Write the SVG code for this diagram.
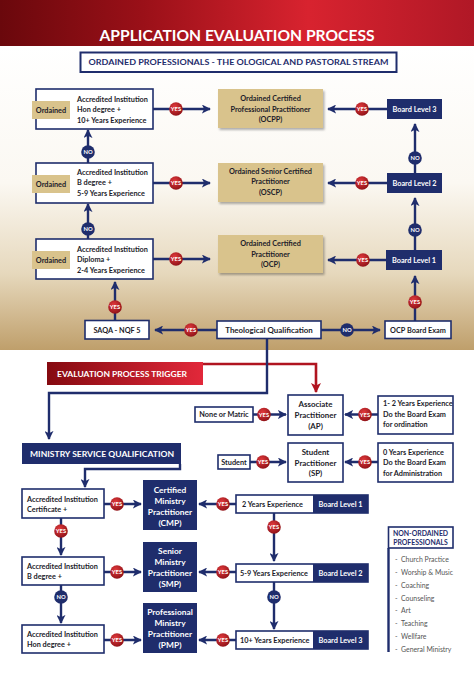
<svg xmlns="http://www.w3.org/2000/svg" width="474" height="676" viewBox="0 0 474 676">
<defs>
<linearGradient id="hdr" x1="0" y1="0" x2="1" y2="0">
<stop offset="0" stop-color="#6a080c"/><stop offset="0.3" stop-color="#9a1018"/><stop offset="0.65" stop-color="#d8232f"/><stop offset="1" stop-color="#b01826"/>
</linearGradient>
<linearGradient id="trig" x1="0" y1="0" x2="1" y2="0">
<stop offset="0" stop-color="#850a10"/><stop offset="1" stop-color="#e2283a"/>
</linearGradient>
<linearGradient id="bg" x1="0" y1="0" x2="0" y2="1">
<stop offset="0" stop-color="#ffffff"/><stop offset="0.45" stop-color="#fbf8f2"/><stop offset="0.75" stop-color="#e6d8bc"/><stop offset="1" stop-color="#bf9f6b"/>
</linearGradient>
<radialGradient id="yesg" cx="0.4" cy="0.35" r="0.7">
<stop offset="0" stop-color="#e23a3c"/><stop offset="1" stop-color="#8c1016"/>
</radialGradient>
<filter id="sh" x="-10%" y="-10%" width="130%" height="140%">
<feDropShadow dx="1.5" dy="2" stdDeviation="1.2" flood-color="#000" flood-opacity="0.3"/>
</filter>
<marker id="arr" viewBox="0 0 10 10" refX="9" refY="5" markerWidth="9" markerHeight="9" markerUnits="userSpaceOnUse" orient="auto">
<path d="M0,0 L10,5 L0,10 L2.5,5 z" fill="#1f2d6c"/>
</marker>
<marker id="arrR" viewBox="0 0 10 10" refX="9" refY="5" markerWidth="10" markerHeight="10" markerUnits="userSpaceOnUse" orient="auto">
<path d="M0,0 L10,5 L0,10 L2.5,5 z" fill="#b01420"/>
</marker>
<g id="yes"><circle r="6.8" fill="url(#yesg)"/><text y="2.1" class="ct">YES</text></g>
<g id="no"><circle r="6.8" fill="#1f2d6c"/><text y="2.1" class="ct">NO</text></g>
</defs>
<style>
text{font-family:Lato,"Open Sans","Liberation Sans",sans-serif;font-weight:700}
.ct{fill:#fff;font-size:5.8px;text-anchor:middle}
.wbox{fill:#fff;stroke:#1f2d6c;stroke-width:1.6}
.nbox{fill:#1f2d6c}
.tan{fill:#d9c38c}
.t7{font-size:7.3px;fill:#1c1c2a}
.tc{text-anchor:middle}
.wt{fill:#fff}
.nv{fill:#1f2d6c}
.ln{fill:none;stroke:#1f2d6c;stroke-width:2.4}
.lr{fill:none;stroke:#b01420;stroke-width:2.6}
.leg{font-family:Lato,"Open Sans","Liberation Sans",sans-serif;font-weight:400;font-size:6.9px;fill:#555}
</style>

<rect x="0" y="46" width="474" height="304" fill="url(#bg)"/>
<g id="header">
<rect x="0" y="0" width="474" height="46" fill="url(#hdr)"/>
<text x="237" y="41" class="tc wt" font-size="14.6" textLength="275" lengthAdjust="spacingAndGlyphs">APPLICATION EVALUATION PROCESS</text>
</g>
<g id="subtitle">
<rect x="80.5" y="52.5" width="316" height="19.5" fill="#fff" stroke="#1f2d6c" stroke-width="2"/>
<text x="238.5" y="65.3" class="tc nv" font-size="8.2" textLength="300" lengthAdjust="spacingAndGlyphs">ORDAINED PROFESSIONALS - THE OLOGICAL AND PASTORAL STREAM</text>
</g>

<g id="connectors">
<line class="ln" x1="153" y1="109" x2="210" y2="109" marker-end="url(#arr)"/>
<line class="ln" x1="153" y1="183" x2="210" y2="183" marker-end="url(#arr)"/>
<line class="ln" x1="153" y1="259" x2="210" y2="259" marker-end="url(#arr)"/>
<line class="ln" x1="88" y1="163" x2="88" y2="130" marker-end="url(#arr)"/>
<line class="ln" x1="88" y1="239" x2="88" y2="204" marker-end="url(#arr)"/>
<line class="ln" x1="115" y1="320" x2="115" y2="282" marker-end="url(#arr)"/>
<line class="ln" x1="217" y1="330" x2="155" y2="330" marker-end="url(#arr)"/>
<line class="ln" x1="321" y1="330" x2="380" y2="330" marker-end="url(#arr)"/>
<line class="ln" x1="415" y1="321" x2="415" y2="276" marker-end="url(#arr)"/>
<line class="ln" x1="386" y1="260" x2="328" y2="260" marker-end="url(#arr)"/>
<line class="ln" x1="415" y1="250" x2="415" y2="198" marker-end="url(#arr)"/>
<line class="ln" x1="387" y1="183" x2="328" y2="183" marker-end="url(#arr)"/>
<line class="ln" x1="415" y1="173" x2="415" y2="124" marker-end="url(#arr)"/>
<line class="ln" x1="387" y1="109" x2="328" y2="109" marker-end="url(#arr)"/>
<polyline class="lr" points="203,364 316,364 316,392" marker-end="url(#arrR)"/>
<polyline class="ln" points="267,338 267,393 49,393 49,439" marker-end="url(#arr)"/>
<polyline class="ln" points="180,464 180,469 85,469 85,487" marker-end="url(#arr)"/>
<line class="ln" x1="253" y1="414.5" x2="286" y2="414.5" marker-end="url(#arr)"/>
<line class="ln" x1="378" y1="414.5" x2="345" y2="414.5" marker-end="url(#arr)"/>
<line class="ln" x1="250" y1="462" x2="286" y2="462" marker-end="url(#arr)"/>
<line class="ln" x1="378" y1="462" x2="345" y2="462" marker-end="url(#arr)"/>
<line class="ln" x1="104" y1="504" x2="141" y2="504" marker-end="url(#arr)"/>
<line class="ln" x1="104" y1="572" x2="141" y2="572" marker-end="url(#arr)"/>
<line class="ln" x1="104" y1="640" x2="141" y2="640" marker-end="url(#arr)"/>
<line class="ln" x1="236" y1="504" x2="199" y2="504" marker-end="url(#arr)"/>
<line class="ln" x1="236" y1="572" x2="199" y2="572" marker-end="url(#arr)"/>
<line class="ln" x1="236" y1="640" x2="199" y2="640" marker-end="url(#arr)"/>
<line class="ln" x1="61" y1="518" x2="61" y2="555" marker-end="url(#arr)"/>
<line class="ln" x1="61" y1="585" x2="61" y2="623" marker-end="url(#arr)"/>
<line class="ln" x1="274" y1="513" x2="274" y2="561" marker-end="url(#arr)"/>
<line class="ln" x1="274" y1="582" x2="274" y2="629" marker-end="url(#arr)"/>
<line class="ln" x1="388.5" y1="548" x2="388.5" y2="652"/>
<use href="#yes" x="176" y="109"/><use href="#yes" x="176" y="183"/><use href="#yes" x="176" y="259"/>
<use href="#no" x="88" y="152"/><use href="#no" x="88" y="229"/>
<use href="#yes" x="115" y="307"/><use href="#yes" x="191" y="330"/><use href="#no" x="347" y="330"/>
<use href="#yes" x="415" y="302"/><use href="#yes" x="363" y="260"/><use href="#no" x="415" y="230"/>
<use href="#yes" x="362" y="183"/><use href="#no" x="415" y="158"/><use href="#yes" x="362" y="109"/>
<use href="#yes" x="264" y="414.5"/><use href="#yes" x="365" y="414.5"/>
<use href="#yes" x="263" y="462"/><use href="#yes" x="365" y="462"/>
<use href="#yes" x="117" y="504"/><use href="#yes" x="117" y="572"/><use href="#yes" x="117" y="640"/>
<use href="#yes" x="223" y="504"/><use href="#yes" x="223" y="572"/><use href="#yes" x="223" y="640"/>
<use href="#yes" x="61" y="531"/><use href="#no" x="61" y="597"/>
<use href="#yes" x="274" y="527"/><use href="#no" x="274" y="597"/>
</g>

<g id="ord-hon">
<rect class="wbox" x="36" y="89" width="117" height="40"/>
<rect class="tan" x="32" y="101" width="38" height="18"/>
<text x="51" y="112.5" class="t7 tc">Ordained</text>
<text x="77" y="101.5" class="t7">Accredited Institution</text>
<text x="77" y="112" class="t7">Hon degree +</text>
<text x="77" y="122.5" class="t7">10+ Years Experience</text>
</g>
<g id="ord-b">
<rect class="wbox" x="36" y="163" width="117" height="40"/>
<rect class="tan" x="32" y="175" width="38" height="18"/>
<text x="51" y="186.5" class="t7 tc">Ordained</text>
<text x="77" y="174.5" class="t7">Accredited Institution</text>
<text x="77" y="185" class="t7">B degree +</text>
<text x="77" y="195.5" class="t7">5-9 Years Experience</text>
</g>
<g id="ord-dip">
<rect class="wbox" x="36" y="239" width="117" height="40"/>
<rect class="tan" x="32" y="251" width="38" height="18"/>
<text x="51" y="262.5" class="t7 tc">Ordained</text>
<text x="77" y="251.5" class="t7">Accredited Institution</text>
<text x="77" y="262" class="t7">Diploma +</text>
<text x="77" y="272.5" class="t7">2-4 Years Experience</text>
</g>

<g id="ocpp">
<rect class="tan" x="218" y="89" width="105" height="39" filter="url(#sh)"/>
<text x="270.5" y="101" class="t7 tc">Ordained Certified</text>
<text x="270.5" y="111.5" class="t7 tc">Professional Practitioner</text>
<text x="270.5" y="122" class="t7 tc">(OCPP)</text>
</g>
<g id="oscp">
<rect class="tan" x="218" y="163" width="105" height="39" filter="url(#sh)"/>
<text x="270.5" y="173.5" class="t7 tc">Ordained Senior Certified</text>
<text x="270.5" y="184" class="t7 tc">Practitioner</text>
<text x="270.5" y="194.5" class="t7 tc">(OSCP)</text>
</g>
<g id="ocp">
<rect class="tan" x="218" y="235" width="105" height="38" filter="url(#sh)"/>
<text x="270.5" y="246" class="t7 tc">Ordained Certified</text>
<text x="270.5" y="256.5" class="t7 tc">Practitioner</text>
<text x="270.5" y="267" class="t7 tc">(OCP)</text>
</g>

<g id="board3"><rect class="nbox" x="387" y="99" width="55" height="20"/><text x="414.5" y="111.5" class="t7 tc wt">Board Level 3</text></g>
<g id="board2"><rect class="nbox" x="387" y="173" width="55" height="20"/><text x="414.5" y="185.5" class="t7 tc wt">Board Level 2</text></g>
<g id="board1"><rect class="nbox" x="386" y="250" width="56" height="20"/><text x="414" y="262.5" class="t7 tc wt">Board Level 1</text></g>

<g id="saqa"><rect class="wbox" x="85" y="320.5" width="64" height="18.5"/><text x="117" y="332.5" class="t7 tc">SAQA - NQF 5</text></g>
<g id="theo"><rect class="wbox" x="217" y="321" width="104" height="17.5"/><text x="269" y="332.5" class="tc" font-size="7.9" fill="#1c1c2a">Theological Qualification</text></g>
<g id="ocpexam"><rect class="wbox" x="385" y="321" width="66" height="17.5"/><text x="418" y="332.5" class="t7 tc">OCP Board Exam</text></g>

<g id="trigger">
<rect x="47" y="362" width="156" height="23" fill="url(#trig)"/>
<text x="57" y="377" class="wt" font-size="8.2" textLength="130" lengthAdjust="spacingAndGlyphs">EVALUATION PROCESS TRIGGER</text>
</g>
<g id="msq">
<rect class="nbox" x="22" y="443" width="159" height="21"/>
<text x="102" y="456.8" class="tc wt" font-size="8.2" textLength="144" lengthAdjust="spacingAndGlyphs">MINISTRY SERVICE QUALIFICATION</text>
</g>

<g id="ap">
<rect class="wbox" x="288" y="395" width="55" height="40"/>
<text x="315.5" y="407" class="tc" font-size="7.9" fill="#1c1c2a">Associate</text>
<text x="315.5" y="418" class="tc" font-size="7.9" fill="#1c1c2a">Practitioner</text>
<text x="315.5" y="428.5" class="tc" font-size="7.9" fill="#1c1c2a">(AP)</text>
</g>
<g id="matric"><rect class="wbox" x="195" y="407" width="58" height="15"/><text x="224" y="417" class="t7 tc">None or Matric</text></g>
<g id="exp12">
<rect class="wbox" x="378" y="396" width="75" height="38"/>
<text x="383" y="406" class="t7">1- 2 Years Experience</text>
<text x="383" y="416.5" class="t7">Do the Board Exam</text>
<text x="383" y="427" class="t7">for ordination</text>
</g>
<g id="sp">
<rect class="wbox" x="288" y="443" width="55" height="39"/>
<text x="315.5" y="455" class="tc" font-size="7.9" fill="#1c1c2a">Student</text>
<text x="315.5" y="465.5" class="tc" font-size="7.9" fill="#1c1c2a">Practitioner</text>
<text x="315.5" y="476" class="tc" font-size="7.9" fill="#1c1c2a">(SP)</text>
</g>
<g id="student"><rect class="wbox" x="218" y="455" width="32" height="14"/><text x="234" y="464.5" class="t7 tc">Student</text></g>
<g id="exp0">
<rect class="wbox" x="378" y="443" width="75" height="39"/>
<text x="383" y="454.5" class="t7">0 Years Experience</text>
<text x="383" y="465" class="t7">Do the Board Exam</text>
<text x="383" y="475.5" class="t7">for Administration</text>
</g>

<g id="acc-cert">
<rect class="wbox" x="22" y="489" width="82" height="29"/>
<text x="27" y="501.5" class="t7">Accredited Institution</text>
<text x="27" y="512" class="t7">Certificate +</text>
</g>
<g id="acc-b">
<rect class="wbox" x="22" y="557" width="82" height="28"/>
<text x="27" y="568.5" class="t7">Accredited Institution</text>
<text x="27" y="579" class="t7">B degree +</text>
</g>
<g id="acc-hon">
<rect class="wbox" x="22" y="625" width="82" height="28"/>
<text x="27" y="636.5" class="t7">Accredited Institution</text>
<text x="27" y="647" class="t7">Hon degree +</text>
</g>

<g id="cmp">
<rect class="nbox" x="143" y="480" width="54" height="50"/>
<text x="170" y="492.5" class="tc wt" font-size="8.4">Certified</text>
<text x="170" y="503.5" class="tc wt" font-size="8.4">Ministry</text>
<text x="170" y="514.5" class="tc wt" font-size="8.4">Practitioner</text>
<text x="170" y="525.5" class="tc wt" font-size="8.4">(CMP)</text>
</g>
<g id="smp">
<rect class="nbox" x="143" y="542" width="54" height="50"/>
<text x="170" y="554" class="tc wt" font-size="8.4">Senior</text>
<text x="170" y="565" class="tc wt" font-size="8.4">Ministry</text>
<text x="170" y="576" class="tc wt" font-size="8.4">Practitioner</text>
<text x="170" y="587" class="tc wt" font-size="8.4">(SMP)</text>
</g>
<g id="pmp">
<rect class="nbox" x="143" y="603" width="54" height="50"/>
<text x="170" y="615" class="tc wt" font-size="8.4">Professional</text>
<text x="170" y="626" class="tc wt" font-size="8.4">Ministry</text>
<text x="170" y="637" class="tc wt" font-size="8.4">Practitioner</text>
<text x="170" y="648" class="tc wt" font-size="8.4">(PMP)</text>
</g>

<g id="bl1-bar">
<rect class="wbox" x="236" y="495" width="132" height="18"/>
<rect class="nbox" x="313" y="495" width="55" height="18"/>
<text x="242" y="506.5" class="t7">2 Years Experience</text>
<text x="340.5" y="506.5" class="t7 tc wt">Board Level 1</text>
</g>
<g id="bl2-bar">
<rect class="wbox" x="236" y="564" width="132" height="18"/>
<rect class="nbox" x="313" y="564" width="55" height="18"/>
<text x="240" y="575.5" class="t7">5-9 Years Experience</text>
<text x="340.5" y="575.5" class="t7 tc wt">Board Level 2</text>
</g>
<g id="bl3-bar">
<rect class="wbox" x="236" y="631" width="132" height="18"/>
<rect class="nbox" x="313" y="631" width="55" height="18"/>
<text x="240" y="642.5" class="t7">10+ Years Experience</text>
<text x="340.5" y="642.5" class="t7 tc wt">Board Level 3</text>
</g>

<g id="legend">
<rect class="wbox" x="388.5" y="527" width="64.5" height="21"/>
<text x="420.5" y="536" class="tc nv" font-size="6.9">NON-ORDAINED</text>
<text x="420.5" y="545" class="tc nv" font-size="6.9">PROFESSIONALS</text>
<text x="395" y="561.5" class="leg">-</text><text x="401" y="561.5" class="leg">Church Practice</text>
<text x="395" y="574.5" class="leg">-</text><text x="401" y="574.5" class="leg">Worship &amp; Music</text>
<text x="395" y="587.5" class="leg">-</text><text x="401" y="587.5" class="leg">Coaching</text>
<text x="395" y="600.5" class="leg">-</text><text x="401" y="600.5" class="leg">Counseling</text>
<text x="395" y="613" class="leg">-</text><text x="401" y="613" class="leg">Art</text>
<text x="395" y="626" class="leg">-</text><text x="401" y="626" class="leg">Teaching</text>
<text x="395" y="638.5" class="leg">-</text><text x="401" y="638.5" class="leg">Wellfare</text>
<text x="395" y="651.5" class="leg">-</text><text x="401" y="651.5" class="leg">General Ministry</text>
</g>
</svg>
